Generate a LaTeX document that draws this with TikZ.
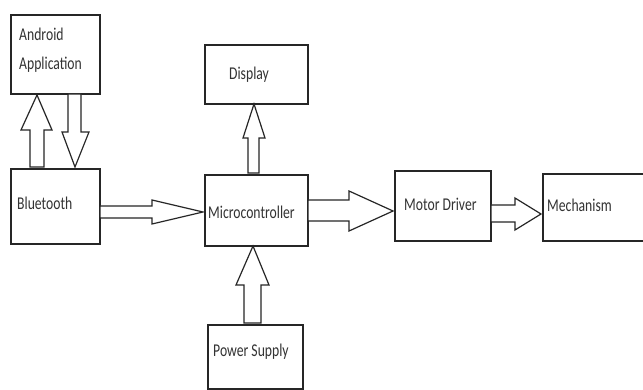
\documentclass[tikz,border=0pt]{standalone}
\usepackage{graphicx}
\usepackage{fontspec}
\setmainfont{Carlito}
\newcommand\sqz[1]{\scalebox{0.76}[1]{#1}}
\tikzset{
  box/.style={draw=black!85, line width=1.7pt, anchor=north west, inner sep=0pt, fill=white},
  lbl/.style={anchor=west, inner sep=0pt, text=black!80, font=\fontsize{18}{29}\selectfont, align=left},
  barrow/.style={draw=black!85, line width=1.2pt, fill=white, line join=miter},
}
\begin{document}
\begin{tikzpicture}[x=1pt,y=-1pt]
\useasboundingbox (0,0) rectangle (643,390);
\fill[white] (0,0) rectangle (643,390);
\begin{scope}
\clip (0,0) rectangle (643,390);
% boxes
\node[box, minimum width=89pt, minimum height=79pt] (android) at (10,14) {};
\node[box, minimum width=89pt, minimum height=75pt] (bt) at (10,168) {};
\node[box, minimum width=103pt, minimum height=59pt] (disp) at (204,44) {};
\node[box, minimum width=103pt, minimum height=71pt] (mc) at (204,174) {};
\node[box, minimum width=96pt, minimum height=70pt] (md) at (394,170) {};
\node[box, minimum width=118pt, minimum height=67pt] (mech) at (542,173) {};
\node[box, minimum width=95pt, minimum height=64pt] (ps) at (207,324) {};
% labels
\node[lbl, anchor=north west] (androidlbl) at (19,28) {\sqz{Android}\\\sqz{Application}};
\node[lbl] (btlbl) at (17,203) {\sqz{Bluetooth}};
\node[lbl] (displbl) at (229,75) {\sqz{Display}};
\node[lbl] (mclbl) at (208,212) {\sqz{Microcontroller}};
\node[lbl] (mdlbl) at (404,204) {\sqz{Motor Driver}};
\node[lbl] (mechlbl) at (547,205) {\sqz{Mechanism}};
\node[lbl] (pslbl) at (213,352) {\sqz{Power Supply}};
% block arrows
% Bluetooth -> Android
\draw[barrow] (30,167) -- (30,130) -- (21,130) -- (37,95) -- (52,130) -- (44,130) -- (44,167) -- cycle;
% Android -> Bluetooth
\draw[barrow] (68,94) -- (68,132) -- (62,132) -- (75,167) -- (89,132) -- (81,132) -- (81,94) -- cycle;
% Bluetooth -> Microcontroller
\draw[barrow] (100,206) -- (152,206) -- (152,200) -- (203,212) -- (152,224) -- (152,218) -- (100,218) -- cycle;
% Microcontroller -> Display
\draw[barrow] (248,173) -- (248,138) -- (243,138) -- (254,104) -- (265,138) -- (259,138) -- (259,173) -- cycle;
% Microcontroller -> Motor Driver
\draw[barrow] (308,200) -- (349,200) -- (349,191) -- (393,211) -- (349,231) -- (349,221) -- (308,221) -- cycle;
% Motor Driver -> Mechanism
\draw[barrow] (491,205) -- (515,205) -- (515,198) -- (541,214) -- (515,230) -- (515,222) -- (491,222) -- cycle;
% Power Supply -> Microcontroller
\draw[barrow] (244,323) -- (244,285) -- (236,285) -- (253,246) -- (269,285) -- (261,285) -- (261,323) -- cycle;
\end{scope}
\end{tikzpicture}
\end{document}
